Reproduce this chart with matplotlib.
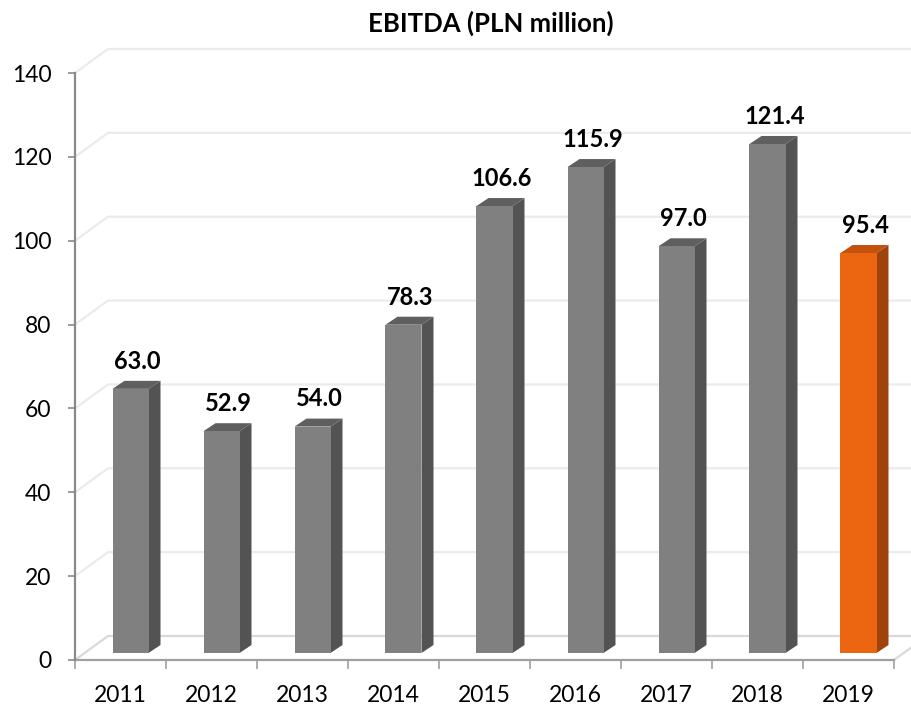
import matplotlib
matplotlib.use('Agg')
import matplotlib.pyplot as plt
from matplotlib.patches import Polygon

years = ['2011', '2012', '2013', '2014', '2015', '2016', '2017', '2018', '2019']
ebitda = [63.0, 52.9, 54.0, 78.3, 106.6, 115.9, 97.0, 121.4, 95.4]
highlight_year = '2019'
y_ticks = [0, 20, 40, 60, 80, 100, 120, 140]
title = 'EBITDA (PLN million)'

plt.rcParams['font.family'] = ['Lato', 'DejaVu Sans']

W, H = 912, 706
fig = plt.figure(figsize=(W / 100, H / 100), dpi=100)
ax = fig.add_axes([75 / W, (H - 660) / H, (894 - 75) / W, (660 - 73) / H])
n = len(years)
ax.set_xlim(-0.5, n - 0.5)
ax.set_ylim(0, 140)

px_x = (894 - 75) / n          # pixels per category unit
px_y = (660 - 73) / 140        # pixels per value unit

wall_dx = 33 / px_x
wall_dy = 24 / px_y

# back wall / side wall gridlines
for t in y_ticks:
    col = '#d9d9d9' if t == 0 else '#ebebeb'
    ax.plot([-0.5, -0.5 + wall_dx, n + 1], [t, t + wall_dy, t + wall_dy],
            color=col, lw=1.6, clip_on=False, zorder=1, solid_capstyle='butt')
# right floor edge
ax.plot([n - 0.5, n - 0.5 + wall_dx], [0, wall_dy], color='#d9d9d9', lw=1.6,
        clip_on=False, zorder=1)

# bars
bw = 36 / px_x
boff = -8 / px_x
b0 = 7 / px_y
ddx = 12 / px_x
ddy = 8 / px_y
for i, (yr, v) in enumerate(zip(years, ebitda)):
    if yr == highlight_year:
        cf, cs, ct = '#ec6612', '#9e430c', '#c3520e'
    else:
        cf, cs, ct = '#808080', '#535353', '#5f5f5f'
    l = i + boff
    r = l + bw
    side = Polygon([(r, b0), (r + ddx, b0 + ddy), (r + ddx, b0 + v + ddy), (r, b0 + v)],
                   closed=True, facecolor=cs, edgecolor='none', clip_on=False, zorder=3)
    top = Polygon([(l, b0 + v), (l + ddx, b0 + v + ddy), (r + ddx, b0 + v + ddy), (r, b0 + v)],
                  closed=True, facecolor=ct, edgecolor='none', clip_on=False, zorder=3)
    front = Polygon([(l, b0), (r, b0), (r, b0 + v), (l, b0 + v)],
                    closed=True, facecolor=cf, edgecolor='none', clip_on=False, zorder=4)
    ax.add_patch(side)
    ax.add_patch(top)
    ax.add_patch(front)
    ax.annotate(f'{v:.1f}', xy=((l + r) / 2, b0 + v), xytext=(5, 14.5),
                textcoords='offset points', ha='center', va='baseline',
                fontsize=17, fontweight='bold', color='black', zorder=5)

# axes styling
ax.set_facecolor('none')
for s in ['top', 'right']:
    ax.spines[s].set_visible(False)
ax.spines['left'].set_color('#898989')
ax.spines['left'].set_linewidth(1.6)
ax.spines['left'].set_bounds(0, 140)
ax.spines['bottom'].set_color('#a0a0a0')
ax.spines['bottom'].set_linewidth(1.6)
ax.spines['left'].set_zorder(6)
ax.spines['bottom'].set_zorder(2)

ax.set_yticks(y_ticks)
ax.set_yticklabels([str(t) for t in y_ticks])
ax.tick_params(axis='y', direction='out', length=5, width=1.2, color='#898989',
               pad=12, labelsize=16.5, labelcolor='black')

ax.set_xticks([k - 0.5 for k in range(n + 1)])
ax.set_xticklabels([])
ax.set_xticks(list(range(n)), minor=True)
ax.set_xticklabels(years, minor=True)
ax.tick_params(axis='x', which='major', direction='out', length=6.5, width=1.2,
               color='#a0a0a0')
ax.tick_params(axis='x', which='minor', length=0, pad=18, labelsize=16.5,
               labelcolor='black')

fig.text(491 / W, (H - 32) / H, title, ha='center', va='baseline',
         fontsize=18.5, fontweight='bold', color='black')

fig.savefig('out.png', dpi=100, facecolor='white')
